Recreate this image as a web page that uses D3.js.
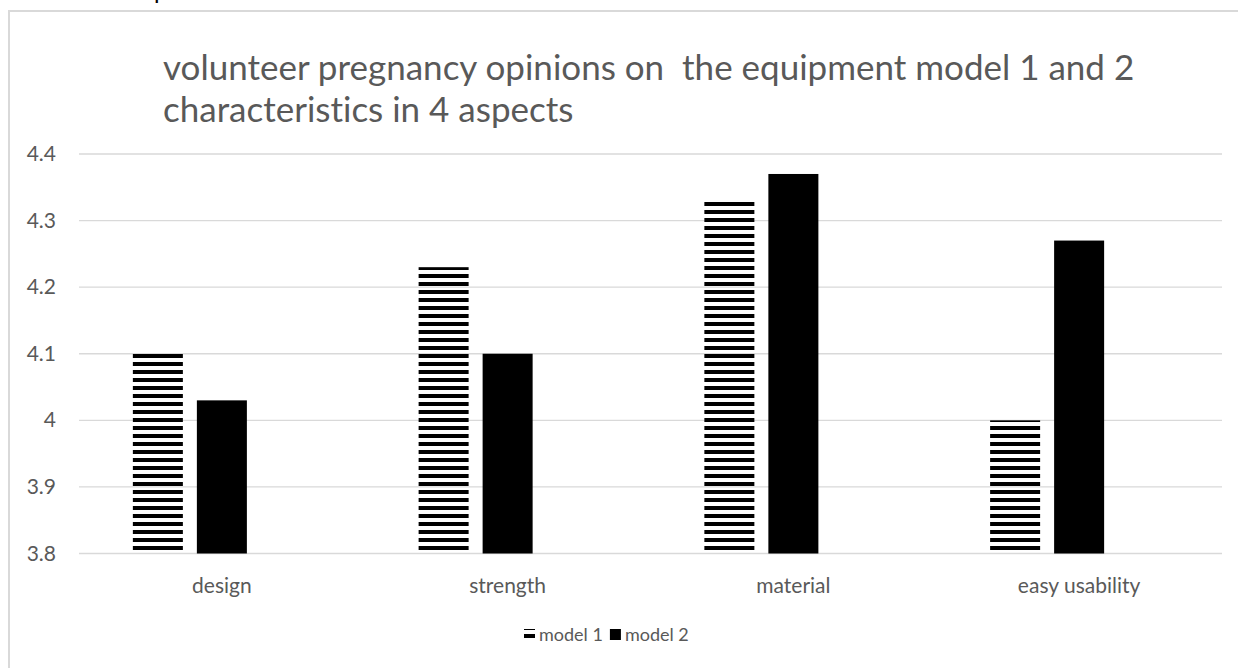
<!DOCTYPE html>
<html>
<head>
<meta charset="utf-8">
<script src="https://cdn.jsdelivr.net/npm/d3@7"></script>
<style>
  html, body { margin: 0; padding: 0; background: #fff; }
  svg { display: block; }
  text { font-family: Lato, "Open Sans", sans-serif; fill: #595959; font-variant-ligatures: none; }
  .title { white-space: pre; }
</style>
</head>
<body>
<svg id="chart" width="1238" height="668"></svg>
<script>
// Aspects rated by the volunteers
const categories = ["design", "strength", "material", "easy usability"];
// Mean opinion scores per equipment model
const model1 = [4.1, 4.23, 4.33, 4.0];
const model2 = [4.03, 4.1, 4.37, 4.27];
const seriesNames = ["model 1", "model 2"];
// Value axis ticks
const yTicks = [3.8, 3.9, 4.0, 4.1, 4.2, 4.3, 4.4];
const yTickLabels = ["3.8", "3.9", "4", "4.1", "4.2", "4.3", "4.4"];
const titleLines = ["volunteer pregnancy opinions on  the equipment model 1 and 2",
                    "characteristics in 4 aspects"];

const svg = d3.select("#chart");
const W = 1238, H = 668;
const plot = { left: 79, right: 1222, top: 154, bottom: 553.5 };

// Hatch fill: horizontal black bands, 4px on / 4px off
const defs = svg.append("defs");
const pat = defs.append("pattern")
  .attr("id", "hstripe")
  .attr("patternUnits", "userSpaceOnUse")
  .attr("x", 0).attr("y", 2)
  .attr("width", 8).attr("height", 8);
pat.append("rect").attr("width", 8).attr("height", 4).attr("fill", "#000");

const fills = { "model 1": "url(#hstripe)", "model 2": "#000" };

// Chart frame (top and left edges visible)
svg.append("line").attr("x1", 9).attr("x2", W).attr("y1", 11).attr("y2", 11)
  .attr("stroke", "#d9d9d9").attr("stroke-width", 2);
svg.append("line").attr("x1", 9).attr("x2", 9).attr("y1", 10).attr("y2", H)
  .attr("stroke", "#d9d9d9").attr("stroke-width", 2);

// Descender of the line of text above the frame
svg.append("text").attr("x", 154).attr("y", -1)
  .style("font-size", "24px").style("fill", "#000").text("p");

// Title
const title = svg.append("text").attr("class", "title")
  .attr("x", 163).attr("y", 80)
  .attr("xml:space", "preserve")
  .style("font-size", "35px");
titleLines.forEach((t, i) => {
  title.append("tspan").attr("x", 163).attr("dy", i === 0 ? 0 : 42).text(t);
});

// Scales
const y = d3.scaleLinear().domain([3.8, 4.4]).range([plot.bottom, plot.top]);
const x = d3.scaleBand().domain(categories).range([plot.left, plot.right])
  .paddingInner(0).paddingOuter(0);
// Three cluster slots per category; the last slot stays empty
const slots = ["model 1", "model 2", "_reserved"];
const groupW = x.bandwidth() * 0.623;
const x1 = d3.scaleBand().domain(slots).range([0, groupW]).paddingInner(0.21875);
const groupOffset = (x.bandwidth() - groupW) / 2;

// Gridlines
svg.append("g").selectAll("line").data(yTicks).join("line")
  .attr("x1", plot.left).attr("x2", plot.right)
  .attr("y1", d => y(d)).attr("y2", d => y(d))
  .attr("stroke", "#d9d9d9").attr("stroke-width", 1.3);

// Y tick labels
svg.append("g").selectAll("text").data(yTicks).join("text")
  .attr("x", 56).attr("y", d => y(d) + 7)
  .attr("text-anchor", "end")
  .style("font-size", "21px")
  .text((d, i) => yTickLabels[i]);

// Bars
const rows = categories.map((c, i) => ({ category: c, values: [
  { series: "model 1", value: model1[i] },
  { series: "model 2", value: model2[i] }
]}));

const groups = svg.append("g").selectAll("g").data(rows).join("g")
  .attr("transform", d => `translate(${x(d.category) + groupOffset},0)`);
groups.selectAll("rect").data(d => d.values).join("rect")
  .attr("x", d => x1(d.series))
  .attr("width", x1.bandwidth())
  .attr("y", d => y(d.value))
  .attr("height", d => y(3.8) - y(d.value))
  .attr("fill", d => fills[d.series]);

// Category labels
svg.append("g").selectAll("text").data(categories).join("text")
  .attr("x", d => x(d) + x.bandwidth() / 2)
  .attr("y", 593)
  .attr("text-anchor", "middle")
  .style("font-size", "21px")
  .text(d => d);

// Legend
const legend = svg.append("g");
let lx = 524;
seriesNames.forEach(name => {
  legend.append("rect").attr("x", lx).attr("y", 629).attr("width", 11).attr("height", 11)
    .attr("fill", fills[name]);
  const t = legend.append("text").attr("x", lx + 15).attr("y", 641)
    .style("font-size", "18px").text(name);
  lx += 15 + t.node().getComputedTextLength() + 7;
});
</script>
</body>
</html>
